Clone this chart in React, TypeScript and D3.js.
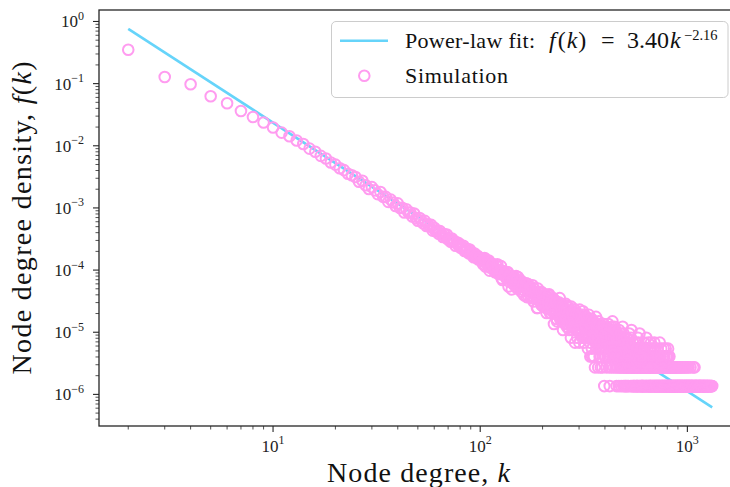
import React from "react";
import * as d3 from "d3";

const WIDTH = 730;
const HEIGHT = 487;
const PLOT = { left: 99, right: 741, top: 10, bottom: 426 };
const X_LIMITS = [1.445, 1815];
const Y_LIMITS = [3.1e-7, 1.53];

const TOTAL_NODES = 735000;
const FIT_PREFACTOR = 3.4;
const FIT_EXPONENT = 2.16;

const LINE_COLOR = "#66d4fa";
const MARKER_COLOR = "#ff9cf0";
const SERIF = "'Liberation Serif', 'Times New Roman', serif";

// degrees 2..11: densities
const headDegrees = [2, 3, 4, 5, 6, 7, 8, 9, 10, 11];
const headDensity = [0.351, 0.128, 0.0975, 0.0625, 0.0483, 0.0363, 0.0291, 0.0237, 0.0197, 0.0163];

// degrees 12..100: node counts (density = count / TOTAL_NODES)
const bodyStartDegree = 12;
const bodyCounts = [
  10450, 8950, 7850, 6610, 5905, 5060, 4580, 3950, 3660, 3190, 2985, 2610, 2470,
  2311, 1939, 2013, 1704, 1484, 1588, 1409, 1226, 1330, 1109,
  1106, 920, 1001, 899, 791, 869, 732, 740, 619, 701,
  618, 619, 534, 597, 503, 457, 505, 461, 416, 455,
  377, 401, 368, 393, 317, 352, 310, 318, 283, 311,
  282, 251, 280, 248, 275, 228, 235, 210, 237, 209,
  215, 181, 206, 188, 198, 169, 179, 164, 181, 149,
  163, 149, 160, 137, 158, 139, 130, 139, 118, 136,
  124, 116, 125, 109, 116, 109,
];

// degrees 101..400: node counts, one per consecutive degree
const midStartDegree = 101;
const midCounts = [
  114, 103, 92, 111, 115, 84, 93, 96, 100, 105,
  72, 80, 87, 88, 92, 80, 73, 68, 75, 85,
  91, 75, 63, 65, 72, 85, 54, 51, 71, 63,
  63, 67, 55, 56, 68, 68, 40, 48, 59, 58,
  50, 36, 58, 53, 43, 57, 50, 44, 59, 40,
  37, 57, 44, 42, 40, 47, 50, 33, 36, 41,
  44, 45, 29, 34, 39, 39, 45, 27, 35, 44,
  28, 33, 39, 39, 36, 26, 28, 33, 42, 38,
  23, 26, 31, 29, 33, 32, 27, 18, 18, 37,
  33, 27, 28, 24, 23, 31, 33, 20, 20, 26,
  28, 22, 19, 25, 28, 30, 20, 18, 15, 27,
  23, 22, 20, 29, 30, 17, 15, 22, 15, 20,
  25, 20, 17, 16, 26, 24, 10, 21, 15, 22,
  16, 21, 23, 12, 11, 18, 17, 18, 21, 13,
  22, 26, 12, 15, 18, 14, 11, 16, 20, 19,
  8, 17, 17, 14, 18, 12, 10, 20, 21, 12,
  17, 9, 10, 14, 14, 19, 11, 15, 8, 16,
  12, 13, 12, 6, 19, 9, 16, 14, 8, 13,
  16, 12, 10, 9, 17, 17, 5, 13, 8, 14,
  10, 12, 15, 6, 8, 12, 10, 14, 14, 8,
  5, 17, 7, 10, 12, 8, 12, 10, 14, 8,
  6, 11, 16, 9, 12, 6, 5, 14, 10, 7,
  11, 6, 6, 9, 12, 13, 7, 8, 6, 11,
  4, 8, 7, 11, 14, 6, 9, 9, 5, 3,
  11, 8, 9, 6, 12, 4, 3, 9, 11, 10,
  6, 7, 11, 3, 9, 8, 7, 2, 10, 5,
  7, 13, 4, 10, 8, 5, 5, 7, 10, 6,
  2, 7, 11, 6, 9, 4, 3, 10, 7, 5,
  8, 2, 4, 6, 8, 9, 4, 6, 2, 8,
  4, 6, 5, 9, 10, 4, 1, 6, 3, 7,
];

// degrees 401..1318: node count per consecutive degree, one base-36 digit each
const tailStartDegree = 401;
const tailCountRows = [
  "54736258469537a4356241587364592653b475836274954386",
  "34251634372546341852430624731536245394215734263145",
  "23143251263042153234153724342031263482134221352431",
  "21302413221352042131241321620531242137421302314231",
  "12031214312012315224130214212032161203122041321502",
  "10213021412310125102142031123021031420131250211304",
  "10210312012130120412013120130212011502132031012410",
  "01201120311201302140211031201102101412021301201021",
  "10321041202113012031012101210120110201121021001201",
  "10201102100112001021100120110021010101200110201011",
  "01012001101001021001110010012001021001011001210010",
  "10010201000110010201100010101001200100110100102001",
  "01001001011002010010010100011010001200010101001100",
  "00101001001001002010010001000101200010010010100100",
  "10001001010010010000100100010001001000100011000101",
  "01000100100001001000100010000100100001000100101000",
  "00100010001000010010000100010001000010000010100001",
  "00010000100100000100000010000100100000001000010000",
  "000100000010000001",
];

const xMajorExponents = [1, 2, 3];
const yMajorExponents = [0, -1, -2, -3, -4, -5, -6];

type Pt = { k: number; f: number };

function buildPoints(): Pt[] {
  const pts: Pt[] = [];
  headDegrees.forEach((k, i) => pts.push({ k, f: headDensity[i] }));
  bodyCounts.forEach((c, i) => pts.push({ k: bodyStartDegree + i, f: c / TOTAL_NODES }));
  midCounts.forEach((c, i) => pts.push({ k: midStartDegree + i, f: c / TOTAL_NODES }));
  tailCountRows
    .join("")
    .split("")
    .forEach((ch, i) => {
      const c = parseInt(ch, 36);
      if (c > 0) pts.push({ k: tailStartDegree + i, f: c / TOTAL_NODES });
    });
  return pts;
}

function logTicks(lo: number, hi: number) {
  const out: { v: number; major: boolean }[] = [];
  for (let e = Math.floor(Math.log10(lo)); e <= Math.ceil(Math.log10(hi)); e++) {
    for (let m = 1; m <= 9; m++) {
      const v = m * Math.pow(10, e);
      if (v >= lo && v <= hi) out.push({ v, major: m === 1 });
    }
  }
  return out;
}

const expText = (e: number) => (e < 0 ? "\u2212" + Math.abs(e) : String(e));

export default function App() {
  const points = buildPoints();
  const x = d3.scaleLog().domain(X_LIMITS).range([PLOT.left, PLOT.right]);
  const y = d3.scaleLog().domain(Y_LIMITS).range([PLOT.bottom, PLOT.top]);

  const kExtent = d3.extent(points, (d) => d.k) as [number, number];
  const fitData = kExtent.map((k) => ({ k, f: FIT_PREFACTOR * Math.pow(k, -FIT_EXPONENT) }));
  const fitPath = d3
    .line<Pt>()
    .x((d) => x(d.k))
    .y((d) => y(d.f))(fitData) as string;

  const xTicks = logTicks(X_LIMITS[0], X_LIMITS[1]);
  const yTicks = logTicks(Y_LIMITS[0], Y_LIMITS[1]);
  const axisColor = "#262626";

  return (
    <svg width={WIDTH} height={HEIGHT} style={{ display: "block", background: "#fff" }} fontFamily={SERIF}>
      <style>{"body{margin:0;}"}</style>
      <rect x={0} y={0} width={WIDTH} height={HEIGHT} fill="#fff" />
      <defs>
        <clipPath id="plotClip">
          <rect x={PLOT.left} y={PLOT.top} width={PLOT.right - PLOT.left} height={PLOT.bottom - PLOT.top} />
        </clipPath>
      </defs>

      <g clipPath="url(#plotClip)">
        <path d={fitPath} fill="none" stroke={LINE_COLOR} strokeWidth={2.6} />
        {points.map((p, i) => (
          <circle key={i} cx={x(p.k)} cy={y(p.f)} r={5.3} fill="none" stroke={MARKER_COLOR} strokeWidth={2} />
        ))}
      </g>

      {/* spines */}
      <rect
        x={PLOT.left}
        y={PLOT.top}
        width={PLOT.right - PLOT.left}
        height={PLOT.bottom - PLOT.top}
        fill="none"
        stroke={axisColor}
        strokeWidth={1.3}
      />

      {/* x ticks */}
      {xTicks.map((t, i) => (
        <line
          key={"xt" + i}
          x1={x(t.v)}
          x2={x(t.v)}
          y1={PLOT.bottom}
          y2={PLOT.bottom + (t.major ? 6 : 3.5)}
          stroke={axisColor}
          strokeWidth={t.major ? 1.1 : 0.8}
        />
      ))}
      {xMajorExponents.map((e) => (
        <text key={"xl" + e} x={x(Math.pow(10, e))} y={451.5} fontSize={17} textAnchor="middle" fill="#222">
          <tspan>10</tspan>
          <tspan fontSize={12} dy={-7.5}>
            {expText(e)}
          </tspan>
        </text>
      ))}

      {/* y ticks */}
      {yTicks.map((t, i) => (
        <line
          key={"yt" + i}
          x1={PLOT.left}
          x2={PLOT.left - (t.major ? 6 : 3.5)}
          y1={y(t.v)}
          y2={y(t.v)}
          stroke={axisColor}
          strokeWidth={t.major ? 1.1 : 0.8}
        />
      ))}
      {yMajorExponents.map((e) => (
        <text key={"yl" + e} x={84} y={y(Math.pow(10, e)) + 6} fontSize={17} textAnchor="end" fill="#222">
          <tspan>10</tspan>
          <tspan fontSize={12} dy={-7.5}>
            {expText(e)}
          </tspan>
        </text>
      ))}

      {/* axis labels */}
      <text x={418.5} y={481.5} fontSize={28} textAnchor="middle" textLength={183} fill="#111">
        Node degree, <tspan fontStyle="italic">k</tspan>
      </text>
      <text
        transform={`translate(31, ${(PLOT.top + PLOT.bottom) / 2}) rotate(-90)`}
        fontSize={28}
        textAnchor="middle"
        textLength={313}
        fill="#111"
      >
        Node degree density, <tspan fontStyle="italic">f</tspan>(<tspan fontStyle="italic">k</tspan>)
      </text>

      {/* legend */}
      <rect x={331.5} y={21.5} width={396.5} height={76} rx={4.5} fill="#fff" fillOpacity={0.8} stroke="#cccccc" strokeWidth={1} />
      <line x1={340} x2={388} y1={40.7} y2={40.7} stroke={LINE_COLOR} strokeWidth={2.6} />
      <text x={405} y={48.3} fontSize={22} textLength={130} fill="#111">
        Power-law fit:
      </text>
      <text x={549} y={48.3} fontSize={24} fill="#111">
        <tspan fontStyle="italic">f</tspan>
        <tspan dx={2}>(</tspan>
        <tspan fontStyle="italic" dx={1}>k</tspan>
        <tspan dx={1}>)</tspan>
      </text>
      <text x={601} y={48.3} fontSize={24} fill="#111">
        =
      </text>
      <text x={627} y={48.3} fontSize={24} fill="#111">
        3.40
      </text>
      <text x={670} y={48.3} fontSize={24} fontStyle="italic" fill="#111">
        k
      </text>
      <text x={684} y={39.5} fontSize={14.5} fill="#111">
        {"\u22122.16"}
      </text>
      <circle cx={364.3} cy={75.7} r={5.3} fill="none" stroke={MARKER_COLOR} strokeWidth={2} />
      <text x={405} y={82.7} fontSize={22} textLength={103} fill="#111">
        Simulation
      </text>
    </svg>
  );
}
